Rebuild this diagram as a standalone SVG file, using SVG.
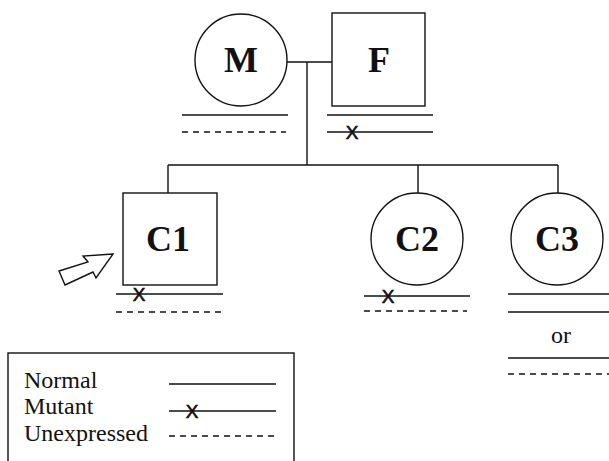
<svg xmlns="http://www.w3.org/2000/svg" width="609" height="461" viewBox="0 0 609 461">
<style>
.shape{fill:#fff;stroke:#111;stroke-width:1.4}
.ln{stroke:#111;stroke-width:1.4;fill:none}
.dash{stroke:#111;stroke-width:1.3;fill:none;stroke-dasharray:6 5}
.lbl{font-family:"Liberation Serif","Times New Roman",serif;font-weight:bold;font-size:36px;fill:#111;text-anchor:middle}
.mx{font-family:"Liberation Sans",Arial,sans-serif;font-size:19px;fill:#111;text-anchor:middle;stroke:#111;stroke-width:0.6}
.lt{font-family:"Liberation Serif","Times New Roman",serif;font-size:24px;fill:#111}
</style>
<rect width="609" height="461" fill="#fff"/>
<g id="connectors">
<path class="ln" d="M287,62 H332 M307,62 V165 M168,165 H558 M168,165 V193 M418,165 V193 M558,165 V193"/>
</g>
<g id="node-M">
<circle class="shape" cx="241" cy="60" r="46"/>
<text class="lbl" x="241" y="72">M</text>
<path class="ln" d="M182,115 H288"/>
<path class="dash" d="M182,132 H286"/>
</g>
<g id="node-F">
<rect class="shape" x="332" y="13" width="93" height="93"/>
<text class="lbl" x="379" y="72">F</text>
<path class="ln" d="M327,115 H433 M327,132 H433"/>
<text class="mx" x="352" y="139">X</text>
</g>
<g id="node-C1">
<rect class="shape" x="123" y="193" width="94" height="92"/>
<text class="lbl" x="168" y="251">C1</text>
<path class="ln" d="M116,294 H223"/>
<text class="mx" x="139" y="301">X</text>
<path class="dash" d="M116,312 H221"/>
</g>
<g id="proband-arrow">
<polygon class="shape" points="113,254 83,256 88,262 59,271 65,285 93,272 96,278"/>
</g>
<g id="node-C2">
<circle class="shape" cx="417" cy="239" r="46"/>
<text class="lbl" x="417" y="251">C2</text>
<path class="ln" d="M364,296 H470"/>
<text class="mx" x="388" y="303">X</text>
<path class="dash" d="M364,311 H467"/>
</g>
<g id="node-C3">
<circle class="shape" cx="557" cy="239" r="46"/>
<text class="lbl" x="557" y="251">C3</text>
<path class="ln" d="M508,294 H609 M508,312 H609 M508,358 H609"/>
<text class="lt" x="561" y="343" text-anchor="middle">or</text>
<path class="dash" d="M508,374 H609"/>
</g>
<g id="legend">
<rect class="shape" x="8" y="353" width="286" height="130"/>
<text class="lt" x="24" y="388">Normal</text>
<text class="lt" x="24" y="414">Mutant</text>
<text class="lt" x="24" y="441">Unexpressed</text>
<path class="ln" d="M169,384 H276 M169,411 H276"/>
<text class="mx" x="192" y="418">X</text>
<path class="dash" d="M169,436 H276"/>
</g>
</svg>
